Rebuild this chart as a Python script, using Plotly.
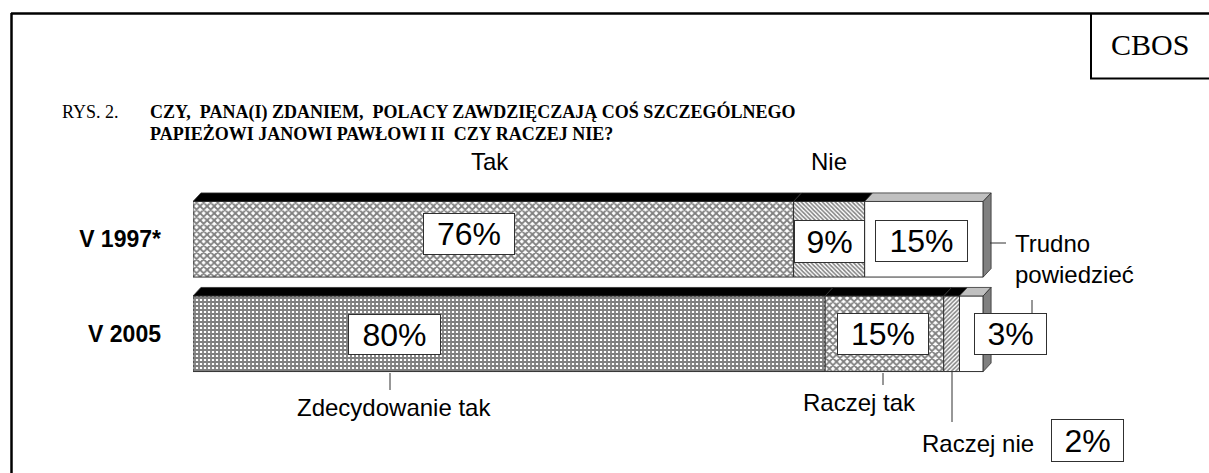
import plotly.graph_objects as go

# ---------------- data ----------------
years = ["V 1997*", "V 2005"]
segments_1997 = ["Tak", "Nie", "Trudno powiedzieć"]
values_1997 = [76, 9, 15]
segments_2005 = ["Zdecydowanie tak", "Raczej tak", "Raczej nie", "Trudno powiedzieć"]
values_2005 = [80, 15, 2, 3]
group_labels = ["Tak", "Nie"]
title_prefix = "RYS. 2."
title_lines = ["CZY,  PANA(I) ZDANIEM,  POLACY ZAWDZIĘCZAJĄ COŚ SZCZEGÓLNEGO",
               "PAPIEŻOWI JANOWI PAWŁOWI II  CZY RACZEJ NIE?"]
source_label = "CBOS"

# ---------------- geometry / styles ----------------
W, H = 1209, 473
ML, MR, MT, MB = 193, 210, 192, 92
PW = W - ML - MR
PH = H - MT - MB
XMAX = 102

SANS = "Liberation Sans, Arial, sans-serif"
SERIF = "Liberation Serif, Times New Roman, serif"

def X(px):
    return (px - ML) / PW

def Y(py):
    return (H - MB - py) / PH

pat_circ = dict(shape="x", fgcolor="black", bgcolor="white", size=5, solidity=0.6)
pat_grid = dict(shape="+", fgcolor="black", bgcolor="white", size=4, solidity=0.7)
pat_diag = dict(shape="\\", fgcolor="black", bgcolor="white", size=3, solidity=0.5)
pat_diag2 = dict(shape="/", fgcolor="black", bgcolor="white", size=3, solidity=0.5)
pat_none = dict(shape="")

styles_1997 = [pat_circ, pat_diag, pat_none]
styles_2005 = [pat_grid, pat_circ, pat_diag2, pat_none]

ypos = {years[0]: 1, years[1]: 0}
BW = 0.8
DX, DY = 1.0, 0.09

fig = go.Figure()
shapes = []

def add_year(year, segs, vals, pats):
    y = ypos[year]
    base = 0
    for s, v, p in zip(segs, vals, pats):
        fig.add_trace(go.Bar(
            x=[v], y=[y], base=[base], orientation="h", width=BW, name=s,
            marker=dict(color="white", pattern=p, line=dict(color="#303030", width=1)),
            showlegend=False, hoverinfo="skip"))
        top = y + BW / 2
        filled = p.get("shape", "") != ""
        shapes.append(dict(
            type="path", xref="x", yref="y", layer="above",
            path=f"M {base},{top} L {base+v},{top} L {base+v+DX},{top+DY} L {base+DX},{top+DY} Z",
            fillcolor="black" if filled else "#c0c0c0",
            line=dict(color="#303030", width=0.8)))
        base += v
    bot = y - BW / 2
    top = y + BW / 2
    shapes.append(dict(
        type="path", xref="x", yref="y", layer="above",
        path=f"M {base},{bot} L {base},{top} L {base+DX},{top+DY} L {base+DX},{bot+DY} Z",
        fillcolor="#808080", line=dict(color="#303030", width=0.8)))

add_year(years[0], segments_1997, values_1997, styles_1997)
add_year(years[1], segments_2005, values_2005, styles_2005)

annotations = []

def box(text, cx, cy, w, h):
    annotations.append(dict(
        text=text, xref="paper", yref="paper", x=X(cx), y=Y(cy),
        xanchor="center", yanchor="middle", showarrow=False,
        width=w, height=h, bgcolor="white", bordercolor="#303030",
        borderwidth=1, borderpad=0, font=dict(family=SANS, size=32, color="black")))

def label(text, x, y, size=24, anchor="center", family=SANS, bold=False):
    annotations.append(dict(
        text=f"<b>{text}</b>" if bold else text, xref="paper", yref="paper",
        x=X(x), y=Y(y), xanchor=anchor, yanchor="middle", showarrow=False,
        font=dict(family=family, size=size, color="black")))

# percentage boxes
box(f"{values_1997[0]}%", 469, 234, 90, 40)
box(f"{values_1997[1]}%", 829, 241, 69, 41)
box(f"{values_1997[2]}%", 921, 241, 91, 40)
box(f"{values_2005[0]}%", 394, 334, 91, 39)
box(f"{values_2005[1]}%", 883, 334, 90, 40)
box(f"{values_2005[3]}%", 1010, 334, 71, 40)
box(f"{values_2005[2]}%", 1087, 440, 71, 41)

# category labels
label(group_labels[0], 490, 162)
label(group_labels[1], 829, 162)
label("Trudno", 1013, 243, anchor="left")
label("powiedzieć", 1013, 274, anchor="left")
label(segments_2005[0], 394, 407)
label(segments_2005[1], 859, 402)
label(segments_2005[2], 978, 443)

# title
label(title_prefix, 60, 112, size=18, anchor="left", family=SERIF)
label(title_lines[0], 148, 112, size=18, anchor="left", family=SERIF, bold=True)
label(title_lines[1], 148, 134, size=18, anchor="left", family=SERIF, bold=True)
label(source_label, 1150, 44, size=30, family=SERIF)

def pline(x0, y0, x1, y1, w=1, color="#303030"):
    shapes.append(dict(type="line", xref="paper", yref="paper",
                       x0=X(x0), y0=Y(y0), x1=X(x1), y1=Y(y1),
                       line=dict(color=color, width=w)))

# leader lines
pline(990, 243, 1006, 243)
pline(1032, 300, 1032, 313)
pline(390, 373, 390, 390)
pline(883, 373, 883, 385)
pline(952, 372, 952, 422)

# frame
pline(11.5, 13, 11.5, 480, w=2.5, color="black")
pline(11, 13.5, 1215, 13.5, w=2.5, color="black")
pline(1091, 13, 1091, 79, w=2, color="black")
pline(1090, 78.5, 1215, 78.5, w=2, color="black")

fig.update_layout(
    width=W, height=H,
    margin=dict(l=ML, r=MR, t=MT, b=MB, pad=0),
    paper_bgcolor="white", plot_bgcolor="white",
    barmode="overlay",
    xaxis=dict(range=[0, XMAX], visible=False, fixedrange=True),
    yaxis=dict(range=[-0.5, 1.5], tickvals=[ypos[y] for y in years],
               ticktext=[f"<b>{y}</b>" for y in years],
               tickfont=dict(family=SANS, size=23, color="black"),
               showgrid=False, zeroline=False, showline=False,
               ticks="", ticklabelstandoff=31, fixedrange=True),
    shapes=shapes, annotations=annotations,
)

fig.write_html("out.html", config={"displayModeBar": False},
               post_script="document.body.style.margin='0px';")
